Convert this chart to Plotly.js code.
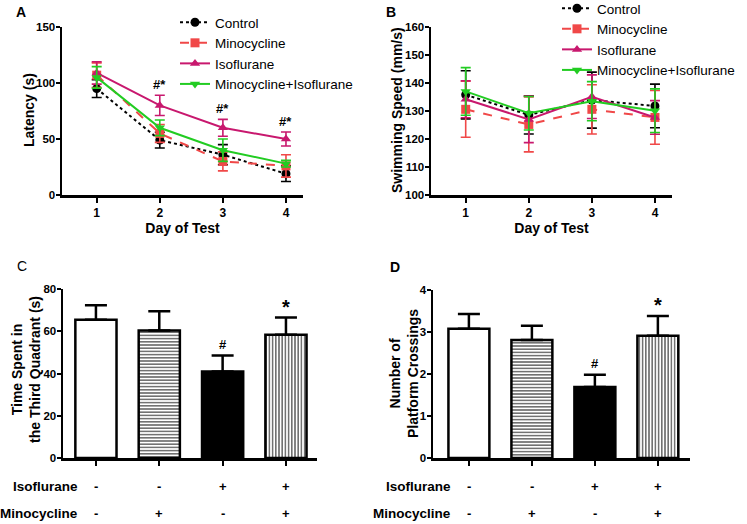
<!DOCTYPE html>
<html>
<head>
<meta charset="utf-8">
<script src="https://cdn.plot.ly/plotly-3.0.1.min.js"></script>
<style>html,body{margin:0;padding:0;background:#fff;}#chart{width:747px;height:524px;}</style>
</head>
<body>
<div id="chart"></div>
<script>
// ---------- data ----------
const days = [1, 2, 3, 4];

// Panel A: escape latency (s)
const latControl = [95, 49, 36, 19];
const latControlErr = [8, 7, 9, 7];
const latMino = [107, 55, 30, 26];
const latMinoErr = [11, 8, 8.5, 10];
const latIso = [109, 80, 60, 50];
const latIsoErr = [10, 9, 7.5, 6.3];
const latMinoIso = [105, 60, 40, 28];
const latMinoIsoErr = [9.6, 7, 10, 3];
const latSig = ["", "#*", "#*", "#*"];

// Panel B: swimming speed (mm/s)
const spdControl = [135.8, 128.6, 133.9, 131.8];
const spdControlErr = [8.6, 6.8, 10, 7.8];
const spdMino = [130.6, 125.2, 130.6, 127.7];
const spdMinoErr = [10, 9.8, 8.8, 9.6];
const spdIso = [134.2, 127, 135.1, 127.7];
const spdIsoErr = [6.6, 8.3, 7.8, 6];
const spdMinoIso = [137, 129.2, 133.5, 130.1];
const spdMinoIsoErr = [8.5, 6, 7, 7.8];

// Panels C & D: bar groups
const barPos = [0, 1, 2, 3];
const timeMeans = [65.5, 60.4, 41, 58.4];
const timeErr = [6.8, 9.1, 7.5, 8.1];
const timeSig = ["", "", "#", "*"];
const crossMeans = [3.08, 2.81, 1.69, 2.91];
const crossErr = [0.35, 0.34, 0.29, 0.47];
const crossSig = ["", "", "#", "*"];
const isoSigns = ["-", "-", "+", "+"];
const minoSigns = ["-", "+", "-", "+"];
const barColors = ["white", "white", "black", "white"];
const barPatterns = ["", "-", "", "|"];

// ---------- styling ----------
const FONT = "Liberation Sans, Arial, sans-serif";
const W = 747, H = 524;
const px = v => v / W;
const py = v => 1 - v / H;
const colors = {
  Control: "#000000",
  Minocycline: "#f04848",
  Isoflurane: "#c8186e",
  "Minocycline+Isoflurane": "#22cc22"
};
const styles = {
  Control: {dash: "dot", symbol: "circle"},
  Minocycline: {dash: "dash", symbol: "square"},
  Isoflurane: {dash: "solid", symbol: "triangle-up"},
  "Minocycline+Isoflurane": {dash: "solid", symbol: "triangle-down"}
};

function lineTrace(name, y, err, xa, ya, legend) {
  const c = colors[name], s = styles[name];
  return {
    type: "scatter", mode: "lines+markers", name: name,
    x: days, y: y, xaxis: xa, yaxis: ya, legend: legend,
    line: {color: c, width: 2, dash: s.dash},
    marker: {color: c, size: 9, symbol: s.symbol},
    error_y: {type: "data", array: err, visible: true, color: c, thickness: 1.6, width: 5}
  };
}

const traces = [
  lineTrace("Control", latControl, latControlErr, "x", "y", "legend"),
  lineTrace("Minocycline", latMino, latMinoErr, "x", "y", "legend"),
  lineTrace("Isoflurane", latIso, latIsoErr, "x", "y", "legend"),
  lineTrace("Minocycline+Isoflurane", latMinoIso, latMinoIsoErr, "x", "y", "legend"),
  lineTrace("Control", spdControl, spdControlErr, "x2", "y2", "legend2"),
  lineTrace("Minocycline", spdMino, spdMinoErr, "x2", "y2", "legend2"),
  lineTrace("Isoflurane", spdIso, spdIsoErr, "x2", "y2", "legend2"),
  lineTrace("Minocycline+Isoflurane", spdMinoIso, spdMinoIsoErr, "x2", "y2", "legend2")
];

// one trace per bar so each can carry its own fill pattern
function barTraces(means, errs, xa, ya) {
  barPos.forEach((p, i) => {
    const marker = {color: barColors[i], line: {color: "black", width: 2.5}};
    if (barPatterns[i]) {
      marker.pattern = {shape: barPatterns[i], fgcolor: "#3a3a3a", bgcolor: "white", size: 3.2, solidity: 0.36};
    }
    traces.push({
      type: "bar", x: [p], y: [means[i]], xaxis: xa, yaxis: ya, width: 0.65, showlegend: false,
      marker: marker,
      error_y: {type: "data", symmetric: false, array: [errs[i]], arrayminus: [0],
                visible: true, color: "black", thickness: 2.5, width: 11}
    });
  });
}
barTraces(timeMeans, timeErr, "x3", "y3");
barTraces(crossMeans, crossErr, "x4", "y4");

const tickfont = {family: FONT, size: 12, color: "black", weight: "bold"};
const titlefont = {family: FONT, size: 14, color: "black", weight: "bold"};
function axisBase(extra) {
  return Object.assign({
    showline: true, linecolor: "black", linewidth: 2.5, showgrid: false, zeroline: false,
    ticks: "outside", ticklen: 5, tickwidth: 2, tickcolor: "black", tickfont: tickfont,
    fixedrange: true
  }, extra);
}
function yAxis(extra) {
  return axisBase(Object.assign({ticklen: 4, ticklabelstandoff: -2,
    tickfont: {family: FONT, size: 11.5, color: "black", weight: "bold"}}, extra));
}

const annotations = [];
// panel letters
[["A", 21, 12, "bold"], ["B", 391, 12, "bold"], ["C", 22, 266, "normal"], ["D", 395, 267, "bold"]].forEach(a => {
  annotations.push({text: a[0], xref: "paper", yref: "paper", x: px(a[1]), y: py(a[2]),
    xanchor: "center", yanchor: "middle", showarrow: false,
    font: {family: FONT, size: 14, color: "black", weight: a[3]}});
});
// y-axis titles (rotated)
[["Latency (s)", 29, 110], ["Swimming Speed (mm/s)", 397, 110],
 ["Time Spent in<br>the Third Quadrant (s)", 26, 370], ["Number of<br>Platform Crossings", 404, 373]].forEach(t => {
  annotations.push({text: t[0], xref: "paper", yref: "paper", x: px(t[1]), y: py(t[2]),
    xanchor: "center", yanchor: "middle", textangle: -90, showarrow: false, font: titlefont});
});
// significance in A
days.forEach((d, i) => {
  if (latSig[i]) annotations.push({text: latSig[i], xref: "x", yref: "y", x: d, y: latIso[i] + latIsoErr[i],
    yanchor: "bottom", yshift: 1, showarrow: false, font: {family: FONT, size: 13, color: "black", weight: "bold"}});
});
// significance on bars
function barSig(sig, means, errs, xr, yr) {
  barPos.forEach((p, i) => {
    if (!sig[i]) return;
    const star = sig[i] === "*";
    annotations.push({text: sig[i], xref: xr, yref: yr, x: p, y: means[i] + errs[i],
      yanchor: "bottom", yshift: star ? -2 : 2, showarrow: false,
      font: {family: FONT, size: star ? 20 : 13, color: "black", weight: "bold"}});
  });
}
barSig(timeSig, timeMeans, timeErr, "x3", "y3");
barSig(crossSig, crossMeans, crossErr, "x4", "y4");
// treatment rows
function rows(xr, labelRight) {
  [["Isoflurane", isoSigns, 486], ["Minocycline", minoSigns, 513]].forEach(r => {
    annotations.push({text: r[0], xref: "paper", yref: "paper", x: px(labelRight), y: py(r[2]),
      xanchor: "right", yanchor: "middle", showarrow: false,
      font: {family: FONT, size: 13.5, color: "black", weight: "bold"}});
    barPos.forEach((p, i) => {
      annotations.push({text: r[1][i], xref: xr, yref: "paper", x: p, y: py(r[2]),
        xanchor: "center", yanchor: "middle", showarrow: false,
        font: {family: FONT, size: 13, color: "black", weight: "bold"}});
    });
  });
}
rows("x3", 80);
rows("x4", 453);

const legendBase = {
  bgcolor: "rgba(0,0,0,0)", font: {family: FONT, size: 13.5, color: "black"},
  itemwidth: 30, yanchor: "top", xanchor: "left", itemclick: false, itemdoubleclick: false
};

const layout = {
  width: W, height: H,
  margin: {l: 0, r: 0, t: 0, b: 0, autoexpand: false},
  paper_bgcolor: "white", plot_bgcolor: "white",
  showlegend: true,
  barmode: "overlay",
  legend: Object.assign({}, legendBase, {x: px(175), y: py(7)}),
  legend2: Object.assign({}, legendBase, {x: px(557), y: py(-7)}),
  xaxis: axisBase({domain: [px(62), px(303)], anchor: "y", range: [0.45, 4.27], tickvals: days,
    title: {text: "Day of Test", font: titlefont, standoff: 3}}),
  yaxis: yAxis({domain: [py(195), py(27)], anchor: "x", range: [0, 150], dtick: 50}),
  xaxis2: axisBase({domain: [px(431), px(672)], anchor: "y2", range: [0.45, 4.27], tickvals: days,
    title: {text: "Day of Test", font: titlefont, standoff: 3}}),
  yaxis2: yAxis({domain: [py(195), py(27)], anchor: "x2", range: [100, 160], dtick: 10}),
  xaxis3: axisBase({domain: [px(63), px(317)], anchor: "y3", range: [-0.52, 3.49], tickvals: barPos,
    showticklabels: false}),
  yaxis3: yAxis({domain: [py(458), py(289)], anchor: "x3", range: [0, 80], dtick: 20}),
  xaxis4: axisBase({domain: [px(433), px(690)], anchor: "y4", range: [-0.57, 3.51], tickvals: barPos,
    showticklabels: false}),
  yaxis4: yAxis({domain: [py(458), py(290)], anchor: "x4", range: [0, 4], dtick: 1}),
  annotations: annotations
};

Plotly.newPlot("chart", traces, layout, {displayModeBar: false, staticPlot: true});
</script>
</body>
</html>
